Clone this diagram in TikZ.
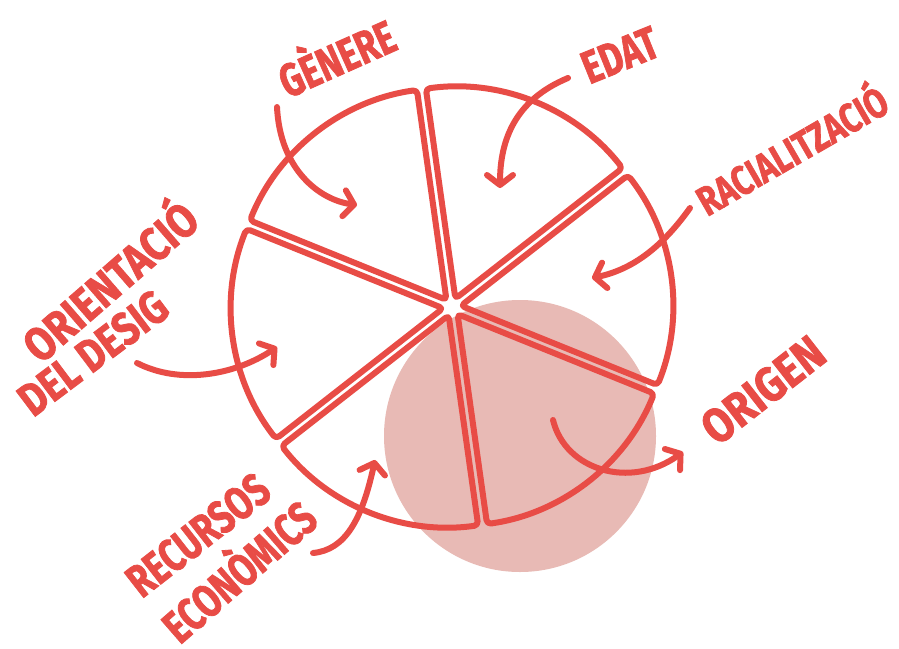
\documentclass[tikz,border=0pt]{standalone}
\usepackage{fontspec}
\setmainfont{Fira Sans}
\newfontfamily\lblfont{Fira Sans}[BoldFeatures={FakeBold=1.8}]
\usetikzlibrary{arrows.meta,calc}
\definecolor{redline}{RGB}{232,76,70}
\definecolor{pinkfill}{RGB}{232,186,181}
\newcommand\lt[2][0.76]{\scalebox{#1}[1]{#2}}
\begin{document}
\begin{tikzpicture}[x=1pt,y=-1pt,
  slice/.style={draw=redline,line width=6pt,rounded corners=4pt,line join=round},
  arr/.style={draw=redline,line width=6pt,line cap=round,-{Straight Barb[length=10pt,width=26pt,round]}},
  lbl/.style={text=redline,font=\lblfont\fontsize{46}{46}\selectfont\bfseries,inner sep=0pt}]
\useasboundingbox (0,0) rectangle (899,648);
\fill[white] (0,0) rectangle (899,648);
\coordinate (c) at (452,307);
\node[circle,fill=pinkfill,minimum size=272pt,inner sep=0pt] (dot) at (520,436) {};
\foreach \a in {98,38,-22,-82,-142,158}{
  \pgfmathsetmacro\s{-(\a)}
  \pgfmathsetmacro\m{-(\a)-30}
  \pgfmathsetmacro\e{-(\a)-60}
  \draw[slice] ($(c)+(\m:9)$) -- ++(\s:212) arc[start angle=\s,end angle=\e,radius=212] -- cycle;
}
% labels
\node[lbl,rotate=24] (genere) at (335,54) {\lt{GÈNERE}};
\node[lbl,rotate=22] (edat) at (620,55) {\lt{EDAT}};
\node[lbl,rotate=30,font=\lblfont\fontsize{41}{41}\selectfont\bfseries] (racial) at (790,147) {\lt[0.78]{RACIALITZACIÓ}};
\node[lbl,rotate=41,font=\lblfont\fontsize{47}{47}\selectfont\bfseries] (orient) at (107,278) {\lt[0.84]{ORIENTACIÓ}};
\node[lbl,rotate=37] (desig) at (93,353) {\lt[0.82]{DEL DESIG}};
\node[lbl,rotate=38] (recursos) at (198,535) {\lt{RECURSOS}};
\node[lbl,rotate=41] (economics) at (236,568) {\lt{ECONÒMICS}};
\node[lbl,rotate=38,font=\lblfont\fontsize{48}{48}\selectfont\bfseries] (origen) at (763,390) {\lt[0.86]{ORIGEN}};
% arrows
\coordinate (g1) at (277,107); \coordinate (g2) at (357,205);
\draw[arr] (g1) .. controls (280,170) and (320,200) .. (g2);
\coordinate (e1) at (568,78); \coordinate (e2) at (500,188);
\draw[arr] (e1) .. controls (515,100) and (500,140) .. (e2);
\coordinate (r1) at (690,208); \coordinate (r2) at (592,278);
\draw[arr] (r1) .. controls (660,250) and (630,270) .. (r2);
\coordinate (o1) at (137,363); \coordinate (o2) at (277,347);
\draw[arr] (o1) .. controls (180,385) and (235,375) .. (o2);
\coordinate (k1) at (313,553); \coordinate (k2) at (375,460);
\draw[arr] (k1) .. controls (345,550) and (362,520) .. (k2);
\coordinate (n1) at (553,420); \coordinate (n2) at (683,452);
\draw[arr] (n1) .. controls (565,470) and (630,490) .. (n2);
\end{tikzpicture}
\end{document}
